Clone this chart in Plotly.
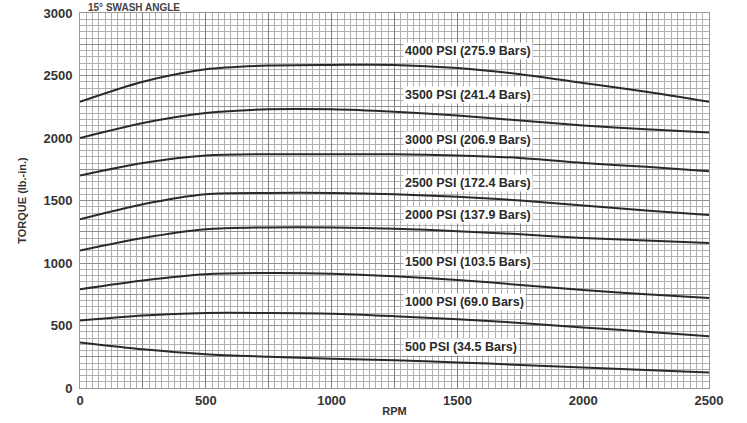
import plotly.graph_objects as go

rpm = [0, 250, 500, 750, 1000, 1250, 1500, 1750, 2000, 2250, 2500]

psi_labels = [
    "4000 PSI (275.9 Bars)",
    "3500 PSI (241.4 Bars)",
    "3000 PSI (206.9 Bars)",
    "2500 PSI (172.4 Bars)",
    "2000 PSI (137.9 Bars)",
    "1500 PSI (103.5 Bars)",
    "1000 PSI (69.0 Bars)",
    "500 PSI (34.5 Bars)",
]

torque_4000 = [2290, 2450, 2550, 2580, 2585, 2585, 2560, 2510, 2440, 2370, 2290]
torque_3500 = [2000, 2120, 2200, 2230, 2230, 2210, 2180, 2140, 2100, 2070, 2045]
torque_3000 = [1700, 1800, 1860, 1870, 1870, 1870, 1860, 1840, 1800, 1770, 1735]
torque_2500 = [1350, 1470, 1550, 1560, 1560, 1550, 1530, 1500, 1460, 1420, 1385]
torque_2000 = [1100, 1200, 1270, 1285, 1285, 1275, 1255, 1230, 1200, 1180, 1160]
torque_1500 = [790, 860, 910, 920, 915, 895, 865, 825, 785, 750, 720]
torque_1000 = [540, 580, 600, 600, 595, 575, 550, 520, 485, 450, 415]
torque_500 = [365, 310, 270, 250, 235, 222, 205, 185, 165, 145, 125]

series = [torque_4000, torque_3500, torque_3000, torque_2500,
          torque_2000, torque_1500, torque_1000, torque_500]

label_x = 1285
label_y = [2695, 2345, 1985, 1640, 1385, 1005, 690, 330]

x_ticks = [0, 500, 1000, 1500, 2000, 2500]
y_ticks = [0, 500, 1000, 1500, 2000, 2500, 3000]

title_text = "15° SWASH ANGLE"

NARROW = "Liberation Sans Narrow, Arial Narrow, sans-serif"

fig = go.Figure()

# major grid overlay axes
fig.add_trace(go.Scatter(x=[0], y=[0], xaxis="x2", yaxis="y2", mode="markers",
                         marker=dict(opacity=0), showlegend=False, hoverinfo="skip"))

for vals in series:
    fig.add_trace(go.Scatter(x=rpm, y=vals, mode="lines",
                             line=dict(color="#2a2a2a", width=2, shape="spline", smoothing=0.8),
                             showlegend=False))

for txt, yv in zip(psi_labels, label_y):
    fig.add_annotation(x=label_x, y=yv, text="<b>" + txt + "</b>", showarrow=False, xanchor="left",
                       yanchor="middle", bgcolor="white", borderpad=1,
                       font=dict(family=NARROW, size=12.5, color="#2a2a2a"))

fig.add_annotation(xref="paper", yref="paper", x=0.01, y=1.0, yshift=13,
                   text="<b>" + title_text + "</b>", showarrow=False,
                   xanchor="left", yanchor="top",
                   font=dict(family="Liberation Sans, Arial, sans-serif", size=10, color="#444"))

axis_font = dict(family=NARROW, size=13, color="#333")

fig.update_layout(
    width=747, height=423,
    margin=dict(l=80, r=38, t=13, b=35, autoexpand=False),
    paper_bgcolor="white", plot_bgcolor="white",
    xaxis=dict(range=[0, 2500], tickvals=x_ticks, ticktext=[f"<b>{v}</b>" for v in x_ticks],
               showgrid=False, zeroline=False, showline=True, linecolor="#999", mirror=True,
               ticks="", tickfont=axis_font, automargin=False,
               minor=dict(dtick=25, showgrid=True, gridcolor="#b0b0b0", gridwidth=1),
               title=dict(text="<b>RPM</b>", standoff=0,
                          font=dict(family=NARROW, size=11, color="#333"))),
    yaxis=dict(range=[0, 3000], tickvals=y_ticks, ticktext=[f"<b>{v}</b>" for v in y_ticks],
               showgrid=False, zeroline=False, showline=True, linecolor="#999", mirror=True,
               ticks="", tickfont=axis_font, automargin=False, ticklabelstandoff=4,
               minor=dict(dtick=50, showgrid=True, gridcolor="#b0b0b0", gridwidth=1),
               title=dict(text="<b>TORQUE (lb.-in.)</b>", standoff=14,
                          font=dict(family=NARROW, size=11, color="#333"))),
    xaxis2=dict(range=[0, 2500], overlaying="x", dtick=250, showgrid=True, gridcolor="#808080",
                gridwidth=1, showticklabels=False, zeroline=False),
    yaxis2=dict(range=[0, 3000], overlaying="y", dtick=250, showgrid=True, gridcolor="#909090",
                gridwidth=1, showticklabels=False, zeroline=False),
)

fig.write_html("out.html", config={"displayModeBar": False},
               post_script="document.body.style.margin='0px';")
